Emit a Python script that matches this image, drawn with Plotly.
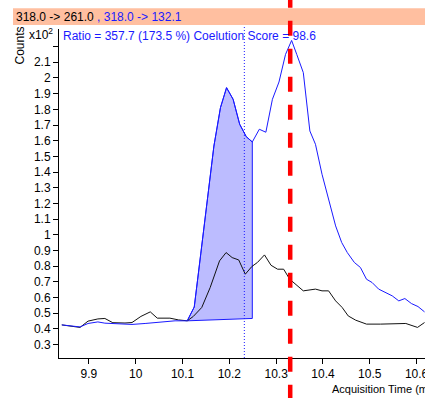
import plotly.graph_objects as go

# Acquisition time (min) and abundance (x10^2 counts) for the two MRM transitions
qual_time = [9.842, 9.861, 9.881, 9.898, 9.919, 9.934, 9.962, 9.992, 10.020, 10.041,
             10.063, 10.084, 10.099, 10.110, 10.125, 10.139, 10.153, 10.167, 10.181, 10.194,
             10.208, 10.222, 10.236, 10.249, 10.264, 10.278, 10.292, 10.306, 10.320, 10.333,
             10.344, 10.358, 10.372, 10.384, 10.398, 10.412, 10.427, 10.440, 10.452, 10.467,
             10.480, 10.493, 10.505, 10.519, 10.534, 10.548, 10.562, 10.575, 10.589, 10.603,
             10.617]
qual_counts = [0.426, 0.420, 0.413, 0.435, 0.445, 0.437, 0.432, 0.429, 0.435, 0.441,
               0.450, 0.452, 0.452, 0.452, 0.540, 0.880, 1.210, 1.566, 1.811, 1.938,
               1.864, 1.705, 1.626, 1.592, 1.673, 1.654, 1.864, 1.974, 2.150, 2.239,
               2.150, 2.034, 1.662, 1.577, 1.386, 1.227, 1.057, 0.951, 0.887, 0.824,
               0.792, 0.717, 0.696, 0.654, 0.632, 0.611, 0.579, 0.594, 0.562, 0.543,
               0.509]

quant_time = [9.842, 9.861, 9.881, 9.898, 9.919, 9.934, 9.951, 9.977, 9.992, 10.011,
              10.031, 10.046, 10.073, 10.091, 10.110, 10.123, 10.141, 10.159, 10.179, 10.193,
              10.206, 10.220, 10.234, 10.248, 10.260, 10.275, 10.289, 10.303, 10.316, 10.329,
              10.343, 10.358, 10.384, 10.398, 10.412, 10.427, 10.441, 10.454, 10.470, 10.493,
              10.523, 10.552, 10.577, 10.602, 10.617]
quant_counts = [0.426, 0.418, 0.410, 0.450, 0.464, 0.467, 0.440, 0.438, 0.441, 0.480,
                0.509, 0.469, 0.469, 0.458, 0.452, 0.480, 0.537, 0.664, 0.834, 0.887,
                0.855, 0.840, 0.749, 0.798, 0.824, 0.872, 0.806, 0.781, 0.781, 0.717,
                0.679, 0.643, 0.654, 0.643, 0.643, 0.579, 0.537, 0.483, 0.456, 0.431,
                0.431, 0.432, 0.435, 0.410, 0.441]

# Integration window of the qualifier peak and its baseline
integ_start, integ_end = 10.110, 10.249
baseline_start, baseline_end = 0.452, 0.467
expected_rt = 10.330
marker_rt = 10.232

x_ticks = [9.9, 10.0, 10.1, 10.2, 10.3, 10.4, 10.5, 10.6]
x_tick_text = ["9.9", "10", "10.1", "10.2", "10.3", "10.4", "10.5", "10.6"]
y_ticks = [0.3, 0.4, 0.5, 0.6, 0.7, 0.8, 0.9, 1.0, 1.1, 1.2, 1.3, 1.4, 1.5,
           1.6, 1.7, 1.8, 1.9, 2.0, 2.1]
y_tick_text = ["0.3", "0.4", "0.5", "0.6", "0.7", "0.8", "0.9", "1", "1.1", "1.2",
               "1.3", "1.4", "1.5", "1.6", "1.7", "1.8", "1.9", "2", "2.1"]
y_unlabelled_ticks = [2.2]

header_quant = "318.0 -> 261.0"
header_qual = "318.0 -> 132.1"
ratio_text = "Ratio = 357.7 (173.5 %) Coelution Score = 98.6"

FONT = "Liberation Sans Narrow, Arial Narrow, Liberation Sans, Arial, sans-serif"
BLUE = "#1a1aff"

# integrated area polygon: baseline start, qualifier trace, baseline end
area_x = [integ_start] + [t for t in qual_time if integ_start <= t <= integ_end] + [integ_end, integ_start]
area_y = [baseline_start] + [c for t, c in zip(qual_time, qual_counts)
                             if integ_start <= t <= integ_end] + [baseline_end, baseline_start]

fig = go.Figure()
fig.add_trace(go.Scatter(x=area_x, y=area_y, mode="lines", fill="toself",
                         fillcolor="#bcbcff", line=dict(color=BLUE, width=1),
                         hoverinfo="skip", showlegend=False))
fig.add_trace(go.Scatter(x=quant_time, y=quant_counts, mode="lines",
                         line=dict(color="#111111", width=1), showlegend=False))
fig.add_trace(go.Scatter(x=qual_time, y=qual_counts, mode="lines",
                         line=dict(color=BLUE, width=1), showlegend=False))

W, H = 425, 398
ML, MR, MT, MB = 59, 0, 29, 40
pw, ph = W - ML - MR, H - MT - MB


def px(x):
    return (x - ML) / pw


def py(y):
    return (H - MB - y) / ph


shapes = [
    # header band
    dict(type="rect", xref="paper", yref="paper", x0=px(13), x1=px(W + 5),
         y0=py(25), y1=py(8.3), fillcolor="#ffbfa0", line=dict(width=0), layer="above"),
    # marker line
    dict(type="line", xref="x", yref="paper", x0=marker_rt, x1=marker_rt,
         y0=0, y1=py(25), line=dict(color=BLUE, width=1, dash="1px,2px"), layer="above"),
    # expected retention time
    dict(type="line", xref="x", yref="paper", x0=expected_rt, x1=expected_rt,
         y0=py(-7.3), y1=py(H + 5), line=dict(color="#ff0000", width=4.5, dash="15px,13px"),
         layer="above"),
]

annotations = [
    dict(text=header_quant + " <span style='color:#1a1aff'>, " + header_qual + "</span>",
         xref="paper", yref="paper", x=px(14), y=py(16.7), xanchor="left", yanchor="middle",
         showarrow=False, font=dict(family=FONT, size=12, color="#000000")),
    dict(text=ratio_text, xref="paper", yref="paper", x=px(61), y=py(36),
         xanchor="left", yanchor="middle", showarrow=False,
         font=dict(family=FONT, size=12, color=BLUE)),
    dict(text="Counts", xref="paper", yref="paper", x=px(19), y=py(45.5), textangle=-90,
         xanchor="center", yanchor="middle", showarrow=False,
         font=dict(family=FONT, size=12, color="#000000")),
    dict(text="x10<sup>2</sup>", xref="paper", yref="paper", x=px(27), y=py(34),
         xanchor="left", yanchor="middle", showarrow=False,
         font=dict(family=FONT, size=12, color="#000000")),
    dict(text="Acquisition Time (min)", xref="paper", yref="paper", x=px(330), y=py(389),
         xanchor="left", yanchor="middle", showarrow=False,
         font=dict(family=FONT, size=11, color="#000000")),
]

fig.update_layout(
    width=W, height=H,
    margin=dict(l=ML, r=MR, t=MT, b=MB, pad=0, autoexpand=False),
    paper_bgcolor="white", plot_bgcolor="white",
    font=dict(family=FONT, size=12, color="#000000"),
    shapes=shapes, annotations=annotations,
    xaxis=dict(range=[9.836, 10.618], tickvals=x_ticks, ticktext=x_tick_text,
               showgrid=False, zeroline=False, showline=True, linecolor="#000000",
               linewidth=1, ticks="outside", ticklen=5, tickcolor="#000000",
               ticklabeloverflow="allow", automargin=False,
               tickfont=dict(family=FONT, size=12)),
    yaxis=dict(range=[0.215, 2.312], tickvals=y_ticks, ticktext=y_tick_text,
               showgrid=False, zeroline=False, showline=True, linecolor="#000000",
               linewidth=1, ticks="outside", ticklen=5, tickcolor="#000000",
               automargin=False,
               minor=dict(tickvals=y_unlabelled_ticks, ticks="outside", ticklen=5,
                          tickcolor="#000000", showgrid=False),
               tickfont=dict(family=FONT, size=12)),
)

fig.write_html("out.html")
